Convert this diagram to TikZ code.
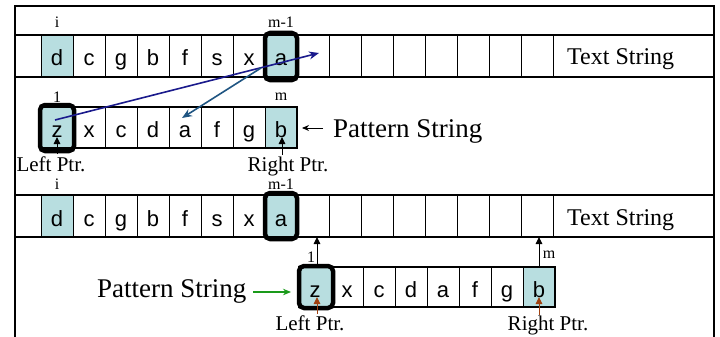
\documentclass[tikz,border=0pt]{standalone}
\usepackage{fontspec}
\setmainfont{Liberation Serif}
\newfontfamily\arialf{Liberation Sans}
\usetikzlibrary{arrows.meta,calc}
\definecolor{tealfill}{HTML}{B8DEE0}
\definecolor{navyarrow}{HTML}{1A1A8C}
\definecolor{steelarrow}{HTML}{1F5582}
\definecolor{greenarrow}{HTML}{1A9A1A}
\definecolor{brownarrow}{HTML}{A0400F}
\tikzset{
  cell/.style={draw, line width=0.8pt, minimum width=32pt, minimum height=42pt, inner sep=0pt,
    text height=20pt, text depth=0pt, font=\arialf\fontsize{22}{22}\selectfont},
  pcell/.style={cell, minimum height=41pt},
  hl/.style={fill=tealfill},
  rowline/.style={line width=1.6pt},
  boldbox/.style={line width=4.5pt, rounded corners=5pt},
  pbox/.style={line width=1.8pt},
  lbl/.style={inner sep=0pt, anchor=base, font=\fontsize{16}{16}\selectfont},
  ptr/.style={inner sep=0pt, anchor=base, font=\fontsize{21}{21}\selectfont},
  big/.style={inner sep=0pt, anchor=base west, font=\fontsize{27}{27}\selectfont},
  txt/.style={inner sep=0pt, anchor=base west, font=\fontsize{24}{24}\selectfont},
  upar/.style={line width=1pt, -{Triangle[length=7pt,width=6.5pt]}},
  blarrow/.style={line width=1.6pt, -{Stealth[length=10pt,width=8pt]}},
}
\begin{document}
\begin{tikzpicture}[x=1pt,y=-1pt]
\useasboundingbox (0,0) rectangle (720,337);
% outer frame
\draw[line width=1.8pt] (15,337) -- (15,6) -- (714,6) -- (714,337);

% ---------- section 1 ----------
% text string row
\foreach \ch [count=\k from 0] in {d,c,g,b,f,s,x,a,{},{},{},{},{},{},{},{}} {
  \node[cell] (A\k) at (57+32*\k,56) {\ch};
}
\node[cell,hl] at (A0) {d};
\node[cell,hl] at (A7) {a};
\draw[rowline] (15,35) -- (714,35);
\draw[rowline] (15,77) -- (714,77);
\draw[boldbox] (265,33) rectangle (297,80);
\node[txt] (ts1) at (567,65) {Text String};
\node[lbl] (i1) at (57,28) {i};
\node[lbl] (m1a) at (281,28) {m-1};

% pattern row 1
\foreach \ch [count=\k from 0] in {z,x,c,d,a,f,g,b} {
  \node[pcell] (P\k) at (57+32*\k,127.5) {\ch};
}
\node[pcell,hl] at (P0) {z};
\node[pcell,hl] at (P7) {b};
\draw[pbox] (41,107) rectangle (297,148);
\draw[boldbox] (40,105) rectangle (74,151);
\node[lbl] (one1) at (57,102) {1};
\node[lbl] (mm1) at (281,100) {m};
\node[big] (ps1) at (333,137) {Pattern String};
\coordinate (ps1a) at (323,128);
\coordinate (ps1b) at (302,128);
\draw[line width=1pt, -{Stealth[length=7pt,width=6pt]}] (ps1a) -- (ps1b);

% pointers section 1
\node[ptr] (lp1) at (51,171) {Left Ptr.};
\node[ptr] (rp1) at (288,171) {Right Ptr.};
\coordinate (lp1s) at (57,154);
\coordinate (lp1t) at (57,137);
\coordinate (rp1s) at (282,155);
\coordinate (rp1t) at (282,137);
\draw[upar] (lp1s) -- (lp1t);
\draw[upar] (rp1s) -- (rp1t);

% blue arrows
\coordinate (b1s) at (55,120);
\coordinate (b1t) at (319,53);
\draw[blarrow, navyarrow] (b1s) -- (b1t);
\coordinate (b2s) at (261,68);
\coordinate (b2t) at (182,118);
\draw[blarrow, steelarrow] (b2s) -- (b2t);

% ---------- section 2 ----------
\foreach \ch [count=\k from 0] in {d,c,g,b,f,s,x,a,{},{},{},{},{},{},{},{}} {
  \node[cell] (B\k) at (57+32*\k,216) {\ch};
}
\node[cell,hl] at (B0) {d};
\node[cell,hl] at (B7) {a};
\draw[rowline] (15,195) -- (714,195);
\draw[rowline] (15,237) -- (714,237);
\draw[boldbox] (265,193) rectangle (297,239);
\node[txt] (ts2) at (567,225) {Text String};
\node[lbl] (i2) at (57,189) {i};
\node[lbl] (m1b) at (281,189) {m-1};

% pattern row 2
\foreach \ch [count=\k from 0] in {z,x,c,d,a,f,g,b} {
  \node[pcell] (Q\k) at (315+32*\k,287) {\ch};
}
\node[pcell,hl] at (Q0) {z};
\node[pcell,hl] at (Q7) {b};
\draw[pbox] (299,267) rectangle (555,307);
\draw[boldbox] (299,266) rectangle (333,308);
\node[big] (ps2) at (97,297) {Pattern String};
\coordinate (g1) at (253,292);
\coordinate (g2) at (291,292);
\draw[line width=1.1pt, greenarrow, -{Stealth[length=8pt,width=6.5pt]}] (g1) -- (g2);

% up arrows to text row
\coordinate (u1s) at (317,266);
\coordinate (u1t) at (317,237);
\coordinate (u2s) at (539,266);
\coordinate (u2t) at (539,237);
\draw[upar] (u1s) -- (u1t);
\draw[upar] (u2s) -- (u2t);
\node[lbl] (one2) at (311,262) {1};
\node[lbl] (mm2) at (549,258) {m};

% brown pointers
\coordinate (lp2s) at (317,314);
\coordinate (lp2t) at (317,297);
\coordinate (rp2s) at (539,315);
\coordinate (rp2t) at (539,297);
\draw[line width=1pt, brownarrow, -{Triangle[length=7pt,width=6.5pt]}] (lp2s) -- (lp2t);
\draw[line width=1pt, brownarrow, -{Triangle[length=7pt,width=6.5pt]}] (rp2s) -- (rp2t);
\node[ptr] (lp2) at (310,330) {Left Ptr.};
\node[ptr] (rp2) at (548,330) {Right Ptr.};
\end{tikzpicture}
\end{document}
